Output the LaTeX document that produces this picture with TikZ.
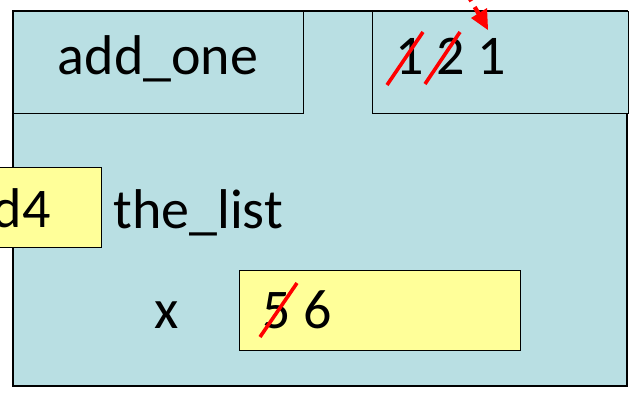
\documentclass[tikz,border=0pt]{standalone}
\usepackage{fontspec}
\setmainfont{Carlito}
\usetikzlibrary{arrows.meta,calc}
\definecolor{framebl}{HTML}{B9DFE3}
\definecolor{valyel}{HTML}{FFFF99}
\begin{document}
\begin{tikzpicture}[x=0.75pt,y=-0.75pt,
  frm/.style={draw=black,line width=1.1pt,fill=framebl},
  valbox/.style={draw=black,line width=1.1pt,fill=valyel},
  lbl/.style={inner sep=0pt,font=\fontsize{42}{50}\selectfont},
  strike/.style={draw=red,line width=2.7pt},
]
\useasboundingbox (0,0) rectangle (634,393);
\clip (0,0) rectangle (634,393);
\fill[white] (0,0) rectangle (634,393);
% main frame
\draw[frm] (13,11) rectangle (627,386);
\node[frm,minimum width=290*0.75pt,minimum height=102*0.75pt,anchor=north west,inner sep=0pt] (fname) at (13,11) {};
\node[frm,minimum width=256*0.75pt,minimum height=102*0.75pt,anchor=north west,inner sep=0pt] (ctr) at (372,11) {};
\node[lbl,anchor=base] (fnamet) at (158,74) {add\_one};
\node[lbl,anchor=base west] (ctrt) at (395,74) {1 2 1};
% the_list
\node[valbox,minimum width=170*0.75pt,minimum height=80*0.75pt,anchor=north east,inner sep=0pt] (d4box) at (102,167) {};
\node[lbl,anchor=base east] (d4t) at (51,227) {d4};
\node[lbl,anchor=base west] (tl) at (113,228) {the\_list};
% x
\node[lbl,anchor=base west] (xl) at (154,328) {x};
\node[valbox,minimum width=281*0.75pt,minimum height=80*0.75pt,anchor=north west,inner sep=0pt] (xbox) at (239,270) {};
\node[lbl,anchor=base west] (xv) at (262,328) {5 6};
% strikes
\draw[strike] (387,85) -- (423,32);
\draw[strike] (425,84) -- (460,32);
\draw[strike] (260,337) -- (297,283);
% red dashed arrow
\coordinate (arrstart) at (466,-8);
\coordinate (arrend) at (488,30);
\draw[red,line width=3.2pt,dash pattern=on 8pt off 5pt] (arrstart) -- ($(arrstart)!0.6!(arrend)$);
\fill[red] (arrend) -- ++(-17,-12) -- ++(16,-10) -- cycle;
\end{tikzpicture}
\end{document}
